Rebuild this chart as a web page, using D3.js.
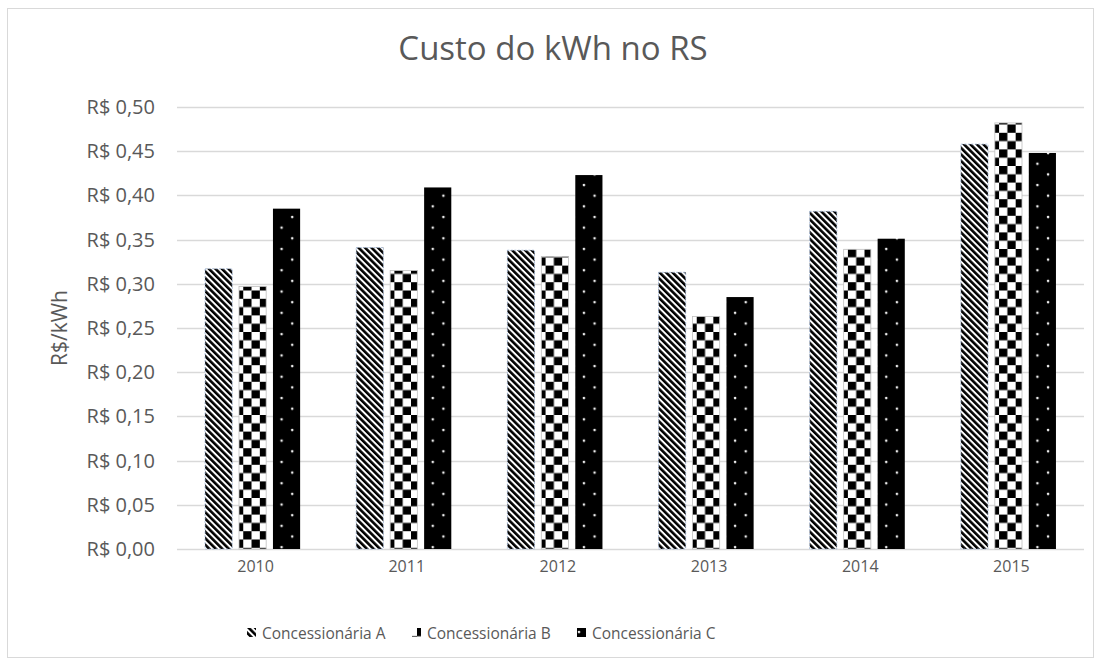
<!DOCTYPE html>
<html lang="pt">
  <head>
    <meta charset="UTF-8" />
    <title>Custo do kWh no RS</title>
    <script type="text/javascript" src="https://cdn.jsdelivr.net/npm/d3@7"></script>
    <style>
      body { margin: 0; background: #fff; }
      text { font-family: "Open Sans", "Noto Sans", sans-serif; fill: #595959; }
    </style>
  </head>
  <body>
    <script type="text/javascript">
      // dados
      var anos = ["2010", "2011", "2012", "2013", "2014", "2015"];
      var series = ["Concessionária A", "Concessionária B", "Concessionária C"];
      var concA = [0.317, 0.341, 0.338, 0.313, 0.382, 0.458];
      var concB = [0.297, 0.315, 0.331, 0.263, 0.339, 0.482];
      var concC = [0.385, 0.409, 0.423, 0.285, 0.351, 0.448];
      var yTicks = [0, 0.05, 0.1, 0.15, 0.2, 0.25, 0.3, 0.35, 0.4, 0.45, 0.5];

      (function () {
        var valores = [concA, concB, concC];
        var W = 1101, H = 665;
        var mLeft = 177, mRight = 1084, mTop = 107, mBottom = 549;

        var svg = d3.select("body").append("svg").attr("width", W).attr("height", H);

        // moldura do grafico
        svg.append("rect")
          .attr("x", 7.5).attr("y", 8.5)
          .attr("width", 1086).attr("height", 649)
          .attr("fill", "#fff").attr("stroke", "#d9d9d9").attr("stroke-width", 1);

        var defs = svg.append("defs");

        // listras diagonais (A)
        var pA = defs.append("pattern")
          .attr("id", "pA").attr("patternUnits", "userSpaceOnUse")
          .attr("width", 4.6).attr("height", 4.6)
          .attr("patternTransform", "rotate(-45)");
        pA.append("rect").attr("width", 4.6).attr("height", 4.6).attr("fill", "#fff");
        pA.append("rect").attr("width", 2.6).attr("height", 4.6).attr("fill", "#000");

        // xadrez (B)
        var s = 8.3;
        var pB = defs.append("pattern")
          .attr("id", "pB").attr("patternUnits", "userSpaceOnUse")
          .attr("x", 5).attr("y", 0)
          .attr("width", s * 2).attr("height", s * 2);
        pB.append("rect").attr("width", s * 2).attr("height", s * 2).attr("fill", "#fff");
        pB.append("rect").attr("width", s).attr("height", s).attr("fill", "#000");
        pB.append("rect").attr("x", s).attr("y", s).attr("width", s).attr("height", s).attr("fill", "#000");

        // pontos (C)
        var t = 21.3;
        var pC = defs.append("pattern")
          .attr("id", "pC").attr("patternUnits", "userSpaceOnUse")
          .attr("x", 0).attr("y", 2)
          .attr("width", t).attr("height", t);
        pC.append("rect").attr("width", t).attr("height", t).attr("fill", "#000");
        pC.append("circle").attr("cx", 2).attr("cy", 2).attr("r", 1.3).attr("fill", "#eee");
        pC.append("circle").attr("cx", 2 + t / 2).attr("cy", 2 + t / 2).attr("r", 1.3).attr("fill", "#eee");

        var fills = ["url(#pA)", "url(#pB)", "url(#pC)"];
        var strokes = ["#9fb5d6", "#bfbfbf", "none"];

        var x0 = d3.scaleBand().domain(anos).range([mLeft, mRight]).paddingInner(0.371).paddingOuter(0.1855);
        var x1 = d3.scaleBand().domain(d3.range(3)).range([0, x0.bandwidth()]).paddingInner(0.2);
        var y = d3.scaleLinear().domain([0, 0.5]).range([mBottom, mTop]);

        // grade
        svg.append("g")
          .selectAll("line")
          .data(yTicks)
          .enter()
          .append("line")
          .attr("x1", mLeft).attr("x2", mRight)
          .attr("y1", function (d) { return Math.round(y(d)) + 0.5; })
          .attr("y2", function (d) { return Math.round(y(d)) + 0.5; })
          .attr("stroke", "#d9d9d9").attr("stroke-width", 1.3);

        // eixo y
        var fmt = function (d) { return "R$ " + d3.format(".2f")(d).replace(".", ","); };
        var yAxis = svg.append("g")
          .attr("transform", "translate(" + (mLeft - 1) + ",0)")
          .call(d3.axisLeft(y).tickValues(yTicks).tickFormat(fmt).tickSize(0).tickPadding(21));
        yAxis.select(".domain").remove();
        yAxis.selectAll("text").style("font-size", "20px").attr("fill", "#595959");

        // eixo x
        var xAxis = svg.append("g")
          .attr("transform", "translate(0," + mBottom + ")")
          .call(d3.axisBottom(x0).tickSize(0).tickPadding(12));
        xAxis.select(".domain").remove();
        xAxis.selectAll("text").attr("x", 3).style("font-size", "16px").attr("fill", "#595959");

        // barras
        var grupos = svg.append("g")
          .selectAll("g")
          .data(anos)
          .enter()
          .append("g")
          .attr("transform", function (d) { return "translate(" + x0(d) + ",0)"; });

        grupos.selectAll("rect")
          .data(function (d, i) { return valores.map(function (v, k) { return { k: k, v: v[i] }; }); })
          .enter()
          .append("rect")
          .attr("x", function (d) { return x1(d.k); })
          .attr("y", function (d) { return y(d.v); })
          .attr("width", x1.bandwidth())
          .attr("height", function (d) { return y(0) - y(d.v); })
          .attr("fill", function (d) { return fills[d.k]; })
          .attr("stroke", function (d) { return strokes[d.k]; })
          .attr("stroke-width", 0.8)
          .attr("stroke-dasharray", function (d) { return d.k == 0 ? "2,1.5" : null; });

        // titulo
        svg.append("text")
          .attr("x", 553).attr("y", 60)
          .attr("text-anchor", "middle")
          .style("font-size", "33px")
          .text("Custo do kWh no RS");

        // titulo eixo y
        svg.append("text")
          .attr("transform", "translate(67," + ((mTop + mBottom) / 2) + ") rotate(-90)")
          .attr("text-anchor", "middle")
          .style("font-size", "21px")
          .text("R$/kWh");

        // legenda
        var legX = [247, 412, 577];
        var leg = svg.append("g")
          .selectAll("g")
          .data(series)
          .enter()
          .append("g")
          .attr("transform", function (d, i) { return "translate(" + legX[i] + ",628)"; });
        leg.append("rect")
          .attr("width", 9).attr("height", 9)
          .attr("fill", function (d, i) { return fills[i]; });
        leg.append("text")
          .attr("x", 15).attr("y", 10.5)
          .style("font-size", "15.5px")
          .text(function (d) { return d; });
      })();
    </script>
  </body>
</html>
